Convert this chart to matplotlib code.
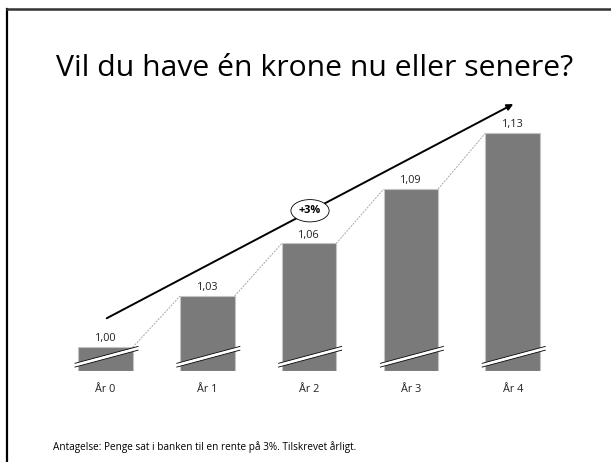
import matplotlib
matplotlib.use("Agg")
import matplotlib.pyplot as plt
from matplotlib.lines import Line2D

plt.rcParams['font.family'] = ['Open Sans', 'DejaVu Sans']

# data
years = ['År 0', 'År 1', 'År 2', 'År 3', 'År 4']
values = [1.0, 1.03, 1.0609, 1.092727, 1.125509]
value_labels = ['1,00', '1,03', '1,06', '1,09', '1,13']
growth_label = '+3%'
title = 'Vil du have én krone nu eller senere?'
footnote = 'Antagelse: Penge sat i banken til en rente på 3%. Tilskrevet årligt.'

base = 0.9861
bar_w = 0.535

fig = plt.figure(figsize=(6.11, 4.62), dpi=100)
ax = fig.add_axes([54.6 / 611, 91 / 462, 509 / 611, 296.8 / 462])
ax.set_xlim(-0.5, 4.5)
ax.set_ylim(base, 1.16)

xs = list(range(len(values)))
ax.bar(xs, [v - base for v in values], bottom=base, width=bar_w,
       color='#7a7a7a', edgecolor='#c4c4c4', linewidth=0.8, zorder=2)

# value labels
for x, v, lab in zip(xs, values, value_labels):
    ax.annotate(lab, (x, v), xytext=(0, 2), textcoords='offset points',
                ha='center', va='bottom', fontsize=7.8, color='#222222')

# dotted connectors between bar tops
for i in range(len(values) - 1):
    ax.plot([xs[i] + bar_w / 2, xs[i + 1] - bar_w / 2], [values[i], values[i + 1]],
            color='#a8a8a8', lw=0.7, ls=(0, (2, 1.2)), zorder=1)

# axis break marks
for x in xs:
    x0, x1 = x - 0.30, x + 0.32
    y0, y1 = base + 0.0034, base + 0.0133
    ax.plot([x0, x1], [y0, y1], color='white', lw=2.8, solid_capstyle='butt', zorder=3)
    for d in (-0.0011, 0.0011):
        ax.plot([x0, x1], [y0 + d, y1 + d], color='black', lw=0.6, zorder=4)

# growth arrow
ax.annotate('', xy=(4.006, 1.1425), xytext=(0.012, 1.017),
            arrowprops=dict(arrowstyle='-|>', color='black', lw=1.4,
                            mutation_scale=9, shrinkA=0, shrinkB=0), zorder=5)
ax.text(2.009, 1.080, growth_label, ha='center', va='center', fontsize=7.8,
        fontweight='bold', zorder=6,
        bbox=dict(boxstyle='ellipse,pad=0.22', fc='white', ec='black', lw=0.6))

ax.set_xticks(xs)
ax.set_xticklabels(years, fontsize=7.8, color='#222222')
ax.tick_params(axis='x', length=0, pad=9)
ax.set_yticks([])
for s in ax.spines.values():
    s.set_visible(False)

fig.text(315 / 611, 1 - 76 / 462, title, ha='center', va='baseline', fontsize=21.7, color='black')
fig.text(53 / 611, 1 - 447 / 462, footnote, ha='left', va='center', fontsize=7.2, color='black')

# slide frame (left and top)
fig.add_artist(Line2D([6.5 / 611, 6.5 / 611], [0, 1 - 8.5 / 462], color='black', lw=1.6))
fig.add_artist(Line2D([6.5 / 611, 1], [1 - 8.5 / 462, 1 - 8.5 / 462], color='#333333', lw=1.8))

fig.savefig('out.png', dpi=100)
